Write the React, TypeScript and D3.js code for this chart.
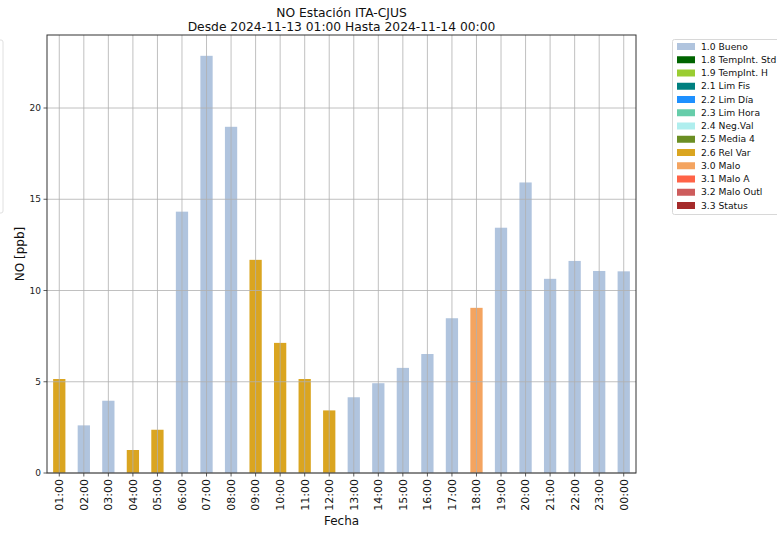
import React from "react";
import * as d3 from "d3";

const hours = ["01:00","02:00","03:00","04:00","05:00","06:00","07:00","08:00","09:00","10:00","11:00","12:00","13:00","14:00","15:00","16:00","17:00","18:00","19:00","20:00","21:00","22:00","23:00","00:00"];
const values = [5.15,2.61,3.96,1.26,2.37,14.32,22.86,18.97,11.68,7.13,5.15,3.43,4.15,4.92,5.76,6.52,8.48,9.05,13.44,15.92,10.64,11.62,11.07,11.05];
const flags = ["2.6","1.0","1.0","2.6","2.6","1.0","1.0","1.0","2.6","2.6","2.6","2.6","1.0","1.0","1.0","1.0","1.0","3.0","1.0","1.0","1.0","1.0","1.0","1.0"];
const legendLabels = ["1.0 Bueno","1.8 TempInt. Std","1.9 TempInt. H","2.1 Lim Fis","2.2 Lim Día","2.3 Lim Hora","2.4 Neg.Val","2.5 Media 4","2.6 Rel Var","3.0 Malo","3.1 Malo A","3.2 Malo Outl","3.3 Status"];
const legendCodes = ["1.0","1.8","1.9","2.1","2.2","2.3","2.4","2.5","2.6","3.0","3.1","3.2","3.3"];
const legendColors = ["#b0c4de","#006400","#9acd32","#008080","#1e90ff","#66cdaa","#afeeee","#6b8e23","#daa520","#f4a460","#ff6347","#cd5c5c","#a52a2a"];
const yTicks = [0,5,10,15,20];

const W = 777, H = 535;
const L = 47, R = 636, T = 35, B = 473;
const font = "'DejaVu Sans', sans-serif";

export default function App() {
  const x = d3.scaleLinear().domain([-0.5, hours.length - 0.5]).range([L, R]);
  const y = d3.scaleLinear().domain([0, 24]).range([B, T]);
  const color = d3.scaleOrdinal<string, string>().domain(legendCodes).range(legendColors);
  const step = x(1) - x(0);
  const bw = step * 0.5;
  return (
    <svg width={W} height={H} style={{ position: "fixed", left: 0, top: 0, background: "#fff" }} fontFamily={font}>
      <rect x={0} y={0} width={W} height={H} fill="#fff" />
      {/* leftover legend edge at the left */}
      <rect x={-60} y={40} width={63} height={173} rx={2} fill="#fff" stroke="#e0e0e0" strokeWidth={1} />
      {/* bars */}
      {values.map((v, i) => (
        <rect key={i} x={x(i) - bw / 2} y={y(v)} width={bw} height={y(0) - y(v)} fill={color(flags[i])} />
      ))}
      {/* grid */}
      {hours.map((h, i) => (
        <line key={"gx" + i} x1={x(i)} x2={x(i)} y1={T} y2={B} stroke="#b0b0b0" strokeWidth={0.8} />
      ))}
      {yTicks.map((t) => (
        <line key={"gy" + t} x1={L} x2={R} y1={y(t)} y2={y(t)} stroke="#b0b0b0" strokeWidth={0.8} />
      ))}
      {/* frame */}
      <rect x={L} y={T} width={R - L} height={B - T} fill="none" stroke="#333" strokeWidth={1} />
      {/* y ticks */}
      {yTicks.map((t) => (
        <g key={"yt" + t}>
          <line x1={L - 3.5} x2={L} y1={y(t)} y2={y(t)} stroke="#333" strokeWidth={0.8} />
          <text x={L - 6} y={y(t)} dy="0.35em" textAnchor="end" fontSize={9} fill="#222">{t}</text>
        </g>
      ))}
      {/* x ticks */}
      {hours.map((h, i) => (
        <g key={"xt" + i}>
          <line x1={x(i)} x2={x(i)} y1={B} y2={B + 3.5} stroke="#333" strokeWidth={0.8} />
          <text transform={`translate(${x(i)},${B + 6}) rotate(-90)`} textAnchor="end" dy="0.35em" fontSize={11} fill="#111">{h}</text>
        </g>
      ))}
      <text x={(L + R) / 2} y={525} textAnchor="middle" fontSize={12} fill="#111">Fecha</text>
      <text transform={`translate(24,${(T + B) / 2}) rotate(-90)`} textAnchor="middle" fontSize={12} fill="#111">NO [ppb]</text>
      {/* title */}
      <text x={(L + R) / 2} y={17} textAnchor="middle" fontSize={12.3} fill="#111">NO Estación ITA-CJUS</text>
      <text x={(L + R) / 2} y={31} textAnchor="middle" fontSize={12.3} fill="#111">Desde 2024-11-13 01:00 Hasta 2024-11-14 00:00</text>
      {/* legend */}
      <rect x={672.5} y={39.5} width={120} height={175} rx={2} fill="#fff" stroke="#d8d8d8" strokeWidth={1} />
      {legendLabels.map((lab, i) => (
        <g key={"lg" + i} transform={`translate(677,${46.5 + i * 13.25})`}>
          <rect x={0} y={-3.5} width={18} height={7} fill={legendColors[i]} />
          <text x={24} y={0} dy="0.35em" fontSize={9.2} fill="#111">{lab}</text>
        </g>
      ))}
    </svg>
  );
}
